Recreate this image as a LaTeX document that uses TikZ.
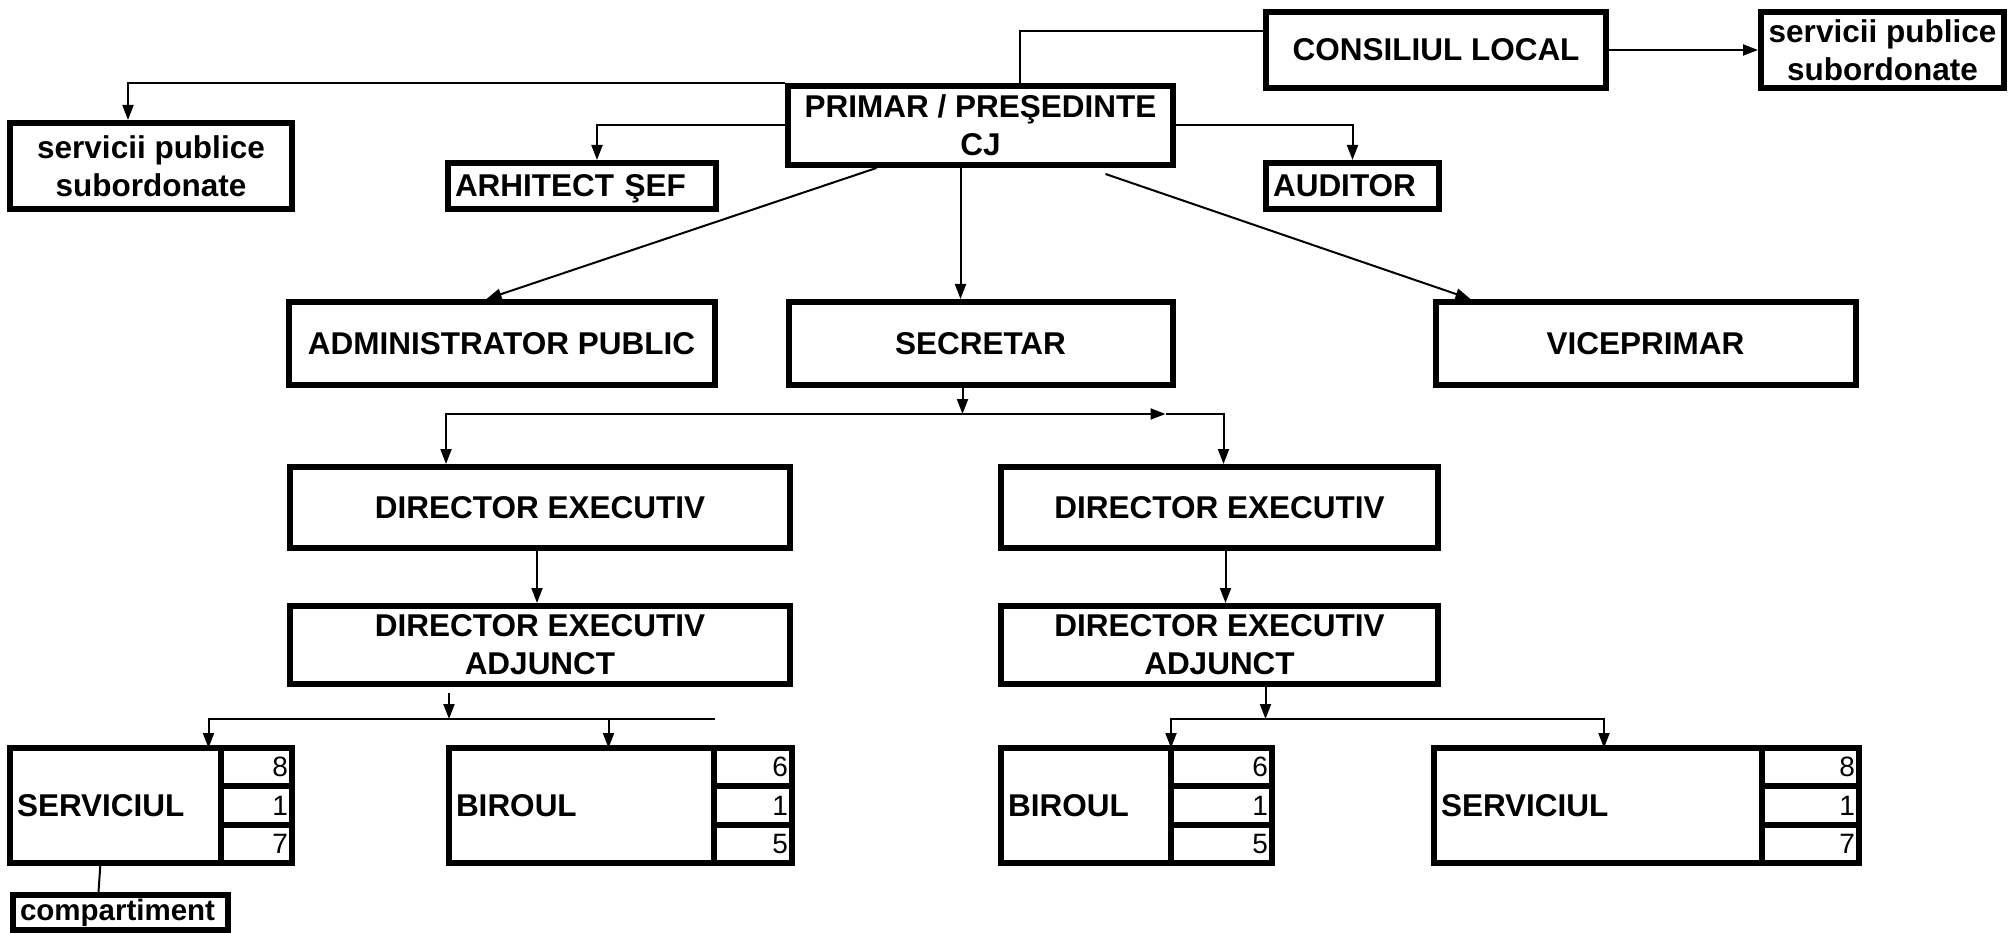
\documentclass[tikz,border=0pt]{standalone}
\usepackage{fontspec}
\setmainfont{Liberation Sans}
\usetikzlibrary{positioning,arrows.meta}
\newcommand{\orgfont}{\fontsize{31.5}{38}\selectfont\bfseries}
\newcommand{\numfont}{\fontsize{28}{32}\selectfont}

\begin{document}
\begin{tikzpicture}[x=1pt,y=-1pt,
  box/.style={draw,line width=6pt,inner sep=0pt,align=center,font=\orgfont},
  tagbox/.style={box,inner xsep=7pt,align=left},
  unit/.style={tagbox,outer sep=0pt,minimum height=115pt},
  cell/.style={draw,line width=6pt,outer sep=0pt,inner xsep=4pt,inner ysep=0pt,text width=#1,minimum height=38.3pt,align=right,font=\numfont},
  link/.style={line width=2pt},
  arr/.style={link,-{Triangle[length=15pt,width=11pt]}}
]
\useasboundingbox (0,0) rectangle (2013,933);

% Conducere
\node[box,minimum width=385pt,minimum height=79pt] (prim) at (980.5,125.5) {PRIMAR / PREŞEDINTE\\CJ};
\node[box,minimum width=340pt,minimum height=76pt] (cl) at (1436,50) {CONSILIUL LOCAL};
\node[box,minimum width=243pt,minimum height=76pt,right=149pt of cl] (spr) {servicii publice\\subordonate};
\node[box,minimum width=282pt,minimum height=86pt] (spl) at (151,166) {servicii publice\\subordonate};
\node[tagbox,text width=254pt,minimum height=46pt,text depth=0pt] (arh) at (582,186) {ARHITECT ŞEF};
\node[tagbox,text width=159pt,minimum height=46pt] (aud) at (1352.5,186) {AUDITOR};

% Al doilea rand
\node[box,minimum width=384pt,minimum height=83pt,below=131pt of prim] (sec) {SECRETAR};
\node[box,minimum width=426pt,minimum height=83pt,left=68pt of sec] (adm) {ADMINISTRATOR PUBLIC};
\node[box,minimum width=420pt,minimum height=83pt,right=257pt of sec] (vice) {VICEPRIMAR};

% Directori
\node[box,minimum width=500pt,minimum height=81pt] (de1) at (540,507.5) {DIRECTOR EXECUTIV};
\node[box,minimum width=437pt,minimum height=81pt,right=205pt of de1] (de2) {DIRECTOR EXECUTIV};
\node[box,minimum width=500pt,minimum height=78pt,below=52pt of de1] (dea1) {DIRECTOR EXECUTIV\\ADJUNCT};
\node[box,minimum width=437pt,minimum height=78pt,below=52pt of de2] (dea2) {DIRECTOR EXECUTIV\\ADJUNCT};

% Structuri
\node[unit,text width=197pt] (s1) at (115.5,805.5) {SERVICIUL};
\node[cell=63pt,anchor=north west] (s1a) at (s1.north east) {8};
\node[cell=63pt,below=0pt of s1a] (s1b) {1};
\node[cell=63pt,below=0pt of s1b] (s1c) {7};

\node[unit,text width=251pt] (b1) at (581.5,805.5) {BIROUL};
\node[cell=70pt,anchor=north west] (b1a) at (b1.north east) {6};
\node[cell=70pt,below=0pt of b1a] (b1b) {1};
\node[cell=70pt,below=0pt of b1b] (b1c) {5};

\node[unit,text width=156pt] (b2) at (1086,805.5) {BIROUL};
\node[cell=93pt,anchor=north west] (b2a) at (b2.north east) {6};
\node[cell=93pt,below=0pt of b2a] (b2b) {1};
\node[cell=93pt,below=0pt of b2b] (b2c) {5};

\node[unit,text width=314pt] (s2) at (1598,805.5) {SERVICIUL};
\node[cell=89pt,anchor=north west] (s2a) at (s2.north east) {8};
\node[cell=89pt,below=0pt of s2a] (s2b) {1};
\node[cell=89pt,below=0pt of s2b] (s2c) {7};

\node[tagbox,text width=201pt,minimum height=35pt,font=\fontsize{29.5}{34}\selectfont\bfseries,below=29pt of s1.south west,anchor=north west] (comp) {compartiment};

% Legaturi de sus
\draw[link] ([yshift=-22pt]cl.north west) -| ([xshift=39pt]prim.north);
\draw[arr] (cl) -- (spr);
\draw[arr] (prim.north west) -| ([xshift=-23pt]spl.north);
\draw[arr] (prim.west) -| ([xshift=15pt]arh.north);
\draw[arr] (prim.east) -| (aud.north);
\draw[arr] ([xshift=-104pt]prim.south) -- ([xshift=-15pt]adm.north);
\draw[arr] ([xshift=-20pt]prim.south) -- ([xshift=-20pt]sec.north);
\draw[arr] ([xshift=125pt,yshift=-6pt]prim.south) -- ([xshift=-175pt]vice.north);

% Secretar -> directori
\coordinate (hubsec) at ([xshift=-18pt,yshift=-26pt]sec.south);
\coordinate (midsec) at ([xshift=203pt]hubsec);
\draw[arr] ([xshift=-18pt]sec.south) -- (hubsec);
\draw[arr] (hubsec) -| ([xshift=-94pt]de1.north);
\draw[arr] (hubsec) -- (midsec);
\draw[arr] (midsec) -| ([xshift=4pt]de2.north);
\draw[arr] ([xshift=-3pt]de1.south) -- ([xshift=-3pt]dea1.north);
\draw[arr] ([xshift=6pt]de2.south) -- ([xshift=6pt]dea2.north);

% Adjuncti -> structuri
\coordinate (hub1) at ([xshift=-91pt,yshift=-32pt]dea1.south);
\draw[arr] ([xshift=-91pt,yshift=-6pt]dea1.south) -- (hub1);
\draw[link] (hub1) -- ++(266,0);
\draw[arr] (hub1) -| ([xshift=93pt]s1.north);
\draw[arr] (hub1) -| ([xshift=27pt]b1.north);

\coordinate (hub2) at ([xshift=46pt,yshift=-32pt]dea2.south);
\draw[arr] ([xshift=46pt]dea2.south) -- (hub2);
\draw[arr] (hub2) -| (b2.north east);
\draw[arr] (hub2) -| ([xshift=6pt]s2.north);

\draw[link] ([xshift=-15pt]s1.south) -- ([xshift=-22pt]comp.north);
\end{tikzpicture}
\end{document}
